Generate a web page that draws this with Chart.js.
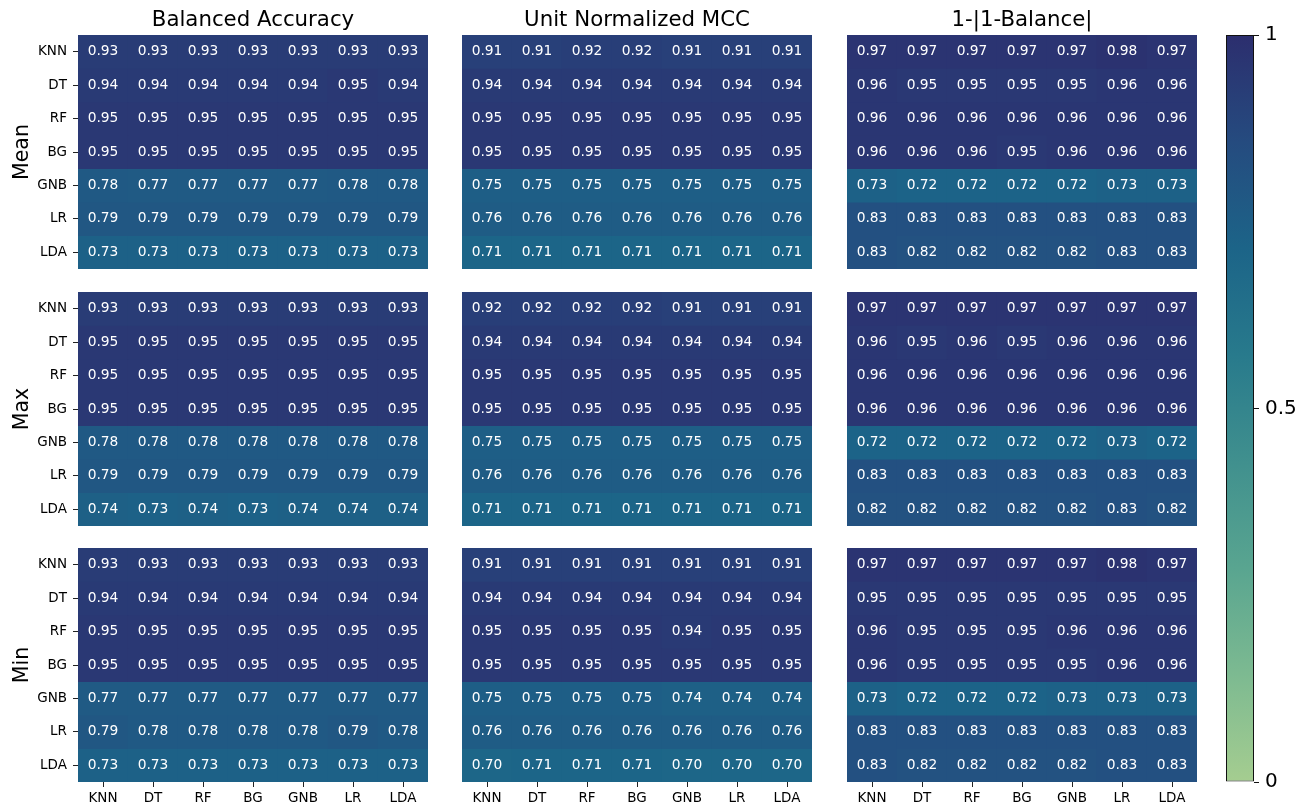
<!DOCTYPE html>
<html>
<head>
<meta charset="utf-8">
<script src="https://cdn.jsdelivr.net/npm/chart.js@4.4.1/dist/chart.umd.min.js"></script>
<style>
  html, body { margin: 0; padding: 0; background: #fff; }
  #page { position: relative; width: 1308px; height: 806px; overflow: hidden; }
  #page canvas { position: absolute; }
</style>
</head>
<body>
<div id="page"></div>
<script>
const models = ['KNN', 'DT', 'RF', 'BG', 'GNB', 'LR', 'LDA'];
const metrics = ['Balanced Accuracy', 'Unit Normalized MCC', '1-|1-Balance|'];
const stats = ['Mean', 'Max', 'Min'];
const cbarTicks = [0, 0.5, 1];

// rows = model trained on, columns = model tested with
const meanBA = [
  [0.93, 0.93, 0.93, 0.93, 0.93, 0.93, 0.93],
  [0.94, 0.94, 0.94, 0.94, 0.94, 0.95, 0.94],
  [0.95, 0.95, 0.95, 0.95, 0.95, 0.95, 0.95],
  [0.95, 0.95, 0.95, 0.95, 0.95, 0.95, 0.95],
  [0.78, 0.77, 0.77, 0.77, 0.77, 0.78, 0.78],
  [0.79, 0.79, 0.79, 0.79, 0.79, 0.79, 0.79],
  [0.73, 0.73, 0.73, 0.73, 0.73, 0.73, 0.73]
];
const meanMCC = [
  [0.91, 0.91, 0.92, 0.92, 0.91, 0.91, 0.91],
  [0.94, 0.94, 0.94, 0.94, 0.94, 0.94, 0.94],
  [0.95, 0.95, 0.95, 0.95, 0.95, 0.95, 0.95],
  [0.95, 0.95, 0.95, 0.95, 0.95, 0.95, 0.95],
  [0.75, 0.75, 0.75, 0.75, 0.75, 0.75, 0.75],
  [0.76, 0.76, 0.76, 0.76, 0.76, 0.76, 0.76],
  [0.71, 0.71, 0.71, 0.71, 0.71, 0.71, 0.71]
];
const meanBal = [
  [0.97, 0.97, 0.97, 0.97, 0.97, 0.98, 0.97],
  [0.96, 0.95, 0.95, 0.95, 0.95, 0.96, 0.96],
  [0.96, 0.96, 0.96, 0.96, 0.96, 0.96, 0.96],
  [0.96, 0.96, 0.96, 0.95, 0.96, 0.96, 0.96],
  [0.73, 0.72, 0.72, 0.72, 0.72, 0.73, 0.73],
  [0.83, 0.83, 0.83, 0.83, 0.83, 0.83, 0.83],
  [0.83, 0.82, 0.82, 0.82, 0.82, 0.83, 0.83]
];
const maxBA = [
  [0.93, 0.93, 0.93, 0.93, 0.93, 0.93, 0.93],
  [0.95, 0.95, 0.95, 0.95, 0.95, 0.95, 0.95],
  [0.95, 0.95, 0.95, 0.95, 0.95, 0.95, 0.95],
  [0.95, 0.95, 0.95, 0.95, 0.95, 0.95, 0.95],
  [0.78, 0.78, 0.78, 0.78, 0.78, 0.78, 0.78],
  [0.79, 0.79, 0.79, 0.79, 0.79, 0.79, 0.79],
  [0.74, 0.73, 0.74, 0.73, 0.74, 0.74, 0.74]
];
const maxMCC = [
  [0.92, 0.92, 0.92, 0.92, 0.91, 0.91, 0.91],
  [0.94, 0.94, 0.94, 0.94, 0.94, 0.94, 0.94],
  [0.95, 0.95, 0.95, 0.95, 0.95, 0.95, 0.95],
  [0.95, 0.95, 0.95, 0.95, 0.95, 0.95, 0.95],
  [0.75, 0.75, 0.75, 0.75, 0.75, 0.75, 0.75],
  [0.76, 0.76, 0.76, 0.76, 0.76, 0.76, 0.76],
  [0.71, 0.71, 0.71, 0.71, 0.71, 0.71, 0.71]
];
const maxBal = [
  [0.97, 0.97, 0.97, 0.97, 0.97, 0.97, 0.97],
  [0.96, 0.95, 0.96, 0.95, 0.96, 0.96, 0.96],
  [0.96, 0.96, 0.96, 0.96, 0.96, 0.96, 0.96],
  [0.96, 0.96, 0.96, 0.96, 0.96, 0.96, 0.96],
  [0.72, 0.72, 0.72, 0.72, 0.72, 0.73, 0.72],
  [0.83, 0.83, 0.83, 0.83, 0.83, 0.83, 0.83],
  [0.82, 0.82, 0.82, 0.82, 0.82, 0.83, 0.82]
];
const minBA = [
  [0.93, 0.93, 0.93, 0.93, 0.93, 0.93, 0.93],
  [0.94, 0.94, 0.94, 0.94, 0.94, 0.94, 0.94],
  [0.95, 0.95, 0.95, 0.95, 0.95, 0.95, 0.95],
  [0.95, 0.95, 0.95, 0.95, 0.95, 0.95, 0.95],
  [0.77, 0.77, 0.77, 0.77, 0.77, 0.77, 0.77],
  [0.79, 0.78, 0.78, 0.78, 0.78, 0.79, 0.78],
  [0.73, 0.73, 0.73, 0.73, 0.73, 0.73, 0.73]
];
const minMCC = [
  [0.91, 0.91, 0.91, 0.91, 0.91, 0.91, 0.91],
  [0.94, 0.94, 0.94, 0.94, 0.94, 0.94, 0.94],
  [0.95, 0.95, 0.95, 0.95, 0.94, 0.95, 0.95],
  [0.95, 0.95, 0.95, 0.95, 0.95, 0.95, 0.95],
  [0.75, 0.75, 0.75, 0.75, 0.74, 0.74, 0.74],
  [0.76, 0.76, 0.76, 0.76, 0.76, 0.76, 0.76],
  [0.70, 0.71, 0.71, 0.71, 0.70, 0.70, 0.70]
];
const minBal = [
  [0.97, 0.97, 0.97, 0.97, 0.97, 0.98, 0.97],
  [0.95, 0.95, 0.95, 0.95, 0.95, 0.95, 0.95],
  [0.96, 0.95, 0.95, 0.95, 0.96, 0.96, 0.96],
  [0.96, 0.95, 0.95, 0.95, 0.95, 0.96, 0.96],
  [0.73, 0.72, 0.72, 0.72, 0.73, 0.73, 0.73],
  [0.83, 0.83, 0.83, 0.83, 0.83, 0.83, 0.83],
  [0.83, 0.82, 0.82, 0.82, 0.82, 0.83, 0.83]
];

const grids = [
  [meanBA, meanMCC, meanBal],
  [maxBA, maxMCC, maxBal],
  [minBA, minMCC, minBal]
];

// seaborn "crest"-like colour map, 0 -> 1
const crest = [
  [0, [165, 205, 144]],
  [1 / 7, [125, 186, 145]],
  [2 / 7, [89, 165, 144]],
  [3 / 7, [64, 144, 142]],
  [4 / 7, [40, 122, 140]],
  [5 / 7, [28, 100, 136]],
  [6 / 7, [37, 75, 127]],
  [1, [44, 46, 110]]
];

function rgb(c) {
  return `rgb(${Math.round(c[0])},${Math.round(c[1])},${Math.round(c[2])})`;
}

function cmap(v) {
  v = Math.max(0, Math.min(1, v));
  for (let k = 1; k < crest.length; k++) {
    const [t1, c1] = crest[k];
    const [t0, c0] = crest[k - 1];
    if (v <= t1) {
      const f = (v - t0) / (t1 - t0);
      return rgb(c0.map((x, i) => x + (c1[i] - x) * f));
    }
  }
  return rgb(crest[crest.length - 1][1]);
}

const FONT = 'DejaVu Sans';
const panelX = [78, 462, 847];
const panelY = [35, 292, 548];
const PW = 350, PH = 234;
const AXW = 78, PADR = 8, AXH = 28, TOP = 35;
const TICK_COLOR = '#222';

const cellLabels = {
  id: 'cellLabels',
  afterDatasetsDraw(chart) {
    const ctx = chart.ctx;
    ctx.save();
    ctx.font = `13.8px "${FONT}"`;
    ctx.fillStyle = '#fff';
    ctx.textAlign = 'center';
    ctx.textBaseline = 'middle';
    chart.data.datasets.forEach((ds, i) => {
      chart.getDatasetMeta(i).data.forEach((bar, j) => {
        const p = bar.getProps(['x', 'y', 'base'], true);
        ctx.fillText(ds.values[j].toFixed(2), p.x, (p.y + p.base) / 2);
      });
    });
    ctx.restore();
  }
};

const page = document.getElementById('page');

function makeCanvas(left, top, w, h) {
  const cv = document.createElement('canvas');
  cv.width = w;
  cv.height = h;
  cv.style.left = left + 'px';
  cv.style.top = top + 'px';
  cv.style.width = w + 'px';
  cv.style.height = h + 'px';
  page.appendChild(cv);
  return cv;
}

stats.forEach((stat, r) => {
  metrics.forEach((metric, c) => {
    const grid = grids[r][c];
    const showY = c === 0;
    const showX = r === 2;
    const cv = makeCanvas(panelX[c] - AXW, panelY[r] - TOP, AXW + PW + PADR, TOP + PH + AXH);

    new Chart(cv, {
      type: 'bar',
      data: {
        labels: models,
        datasets: grid.map((row, i) => ({
          data: row.map(() => [i, i + 1]),
          values: row,
          backgroundColor: row.map(v => cmap(v)),
          borderWidth: 0,
          barPercentage: 1,
          categoryPercentage: 1,
          grouped: false
        }))
      },
      options: {
        responsive: false,
        animation: false,
        devicePixelRatio: 1,
        events: [],
        layout: { padding: { top: r === 0 ? 0 : TOP, right: PADR, left: 0, bottom: 0 } },
        plugins: {
          legend: { display: false },
          tooltip: { enabled: false },
          title: {
            display: r === 0,
            fullSize: false,
            text: metric,
            color: '#000',
            font: { family: FONT, size: 21.3, weight: 'normal' },
            padding: { top: 8, bottom: TOP - 8 - 21.3 * 1.2 }
          }
        },
        scales: {
          x: {
            type: 'category',
            offset: true,
            border: { display: false },
            grid: {
              display: showX,
              offset: false,
              drawOnChartArea: false,
              drawTicks: true,
              tickLength: 5,
              color: TICK_COLOR
            },
            ticks: {
              display: showX,
              color: '#000',
              font: { family: FONT, size: 13.5 },
              padding: 3,
              maxRotation: 0,
              autoSkip: false
            },
            afterFit(scale) { scale.height = AXH; }
          },
          y: {
            type: 'linear',
            min: 0,
            max: models.length,
            reverse: true,
            border: { display: false },
            grid: {
              display: showY,
              drawOnChartArea: false,
              drawTicks: true,
              tickLength: 5,
              color: TICK_COLOR
            },
            ticks: {
              display: showY,
              color: '#000',
              font: { family: FONT, size: 13.5 },
              padding: 6,
              callback: v => models[Math.floor(v)]
            },
            title: {
              display: showY,
              text: stat,
              color: '#000',
              font: { family: FONT, size: 20.5 },
              padding: { top: 10, bottom: 0 }
            },
            afterBuildTicks(scale) {
              scale.ticks = models.map((_, i) => ({ value: i + 0.5 }));
            },
            afterFit(scale) { scale.width = AXW; }
          }
        }
      },
      plugins: [cellLabels]
    });
  });
});

// colour bar
const CB_LEFT = 1226, CB_W = 28, CB_TOP = 35, CB_BOTTOM = 782;
const cbCanvas = makeCanvas(CB_LEFT, 0, CB_W + 60, 806);
new Chart(cbCanvas, {
  type: 'bar',
  data: {
    labels: [''],
    datasets: [{
      data: [[0, 1]],
      backgroundColor(ctx) {
        const a = ctx.chart.chartArea;
        if (!a) return cmap(0.5);
        const g = ctx.chart.ctx.createLinearGradient(0, a.bottom, 0, a.top);
        crest.forEach(([t, col]) => g.addColorStop(t, rgb(col)));
        return g;
      },
      borderColor: '#111',
      borderWidth: 1,
      borderSkipped: false,
      inflateAmount: 0,
      barPercentage: 1,
      categoryPercentage: 1
    }]
  },
  options: {
    responsive: false,
    animation: false,
    devicePixelRatio: 1,
    events: [],
    layout: { padding: { top: CB_TOP, bottom: 806 - CB_BOTTOM, left: 0, right: 0 } },
    plugins: { legend: { display: false }, tooltip: { enabled: false } },
    scales: {
      x: { display: false, offset: true },
      y: {
        position: 'right',
        min: 0,
        max: 1,
        border: { display: false },
        grid: {
          drawOnChartArea: false,
          drawTicks: true,
          tickLength: 5,
          color: '#111'
        },
        ticks: {
          color: '#000',
          font: { family: FONT, size: 20 },
          padding: 6,
          callback: v => String(v)
        },
        afterBuildTicks(scale) {
          scale.ticks = cbarTicks.map(v => ({ value: v }));
        },
        afterFit(scale) { scale.width = 60; }
      }
    }
  }
});
</script>
</body>
</html>
